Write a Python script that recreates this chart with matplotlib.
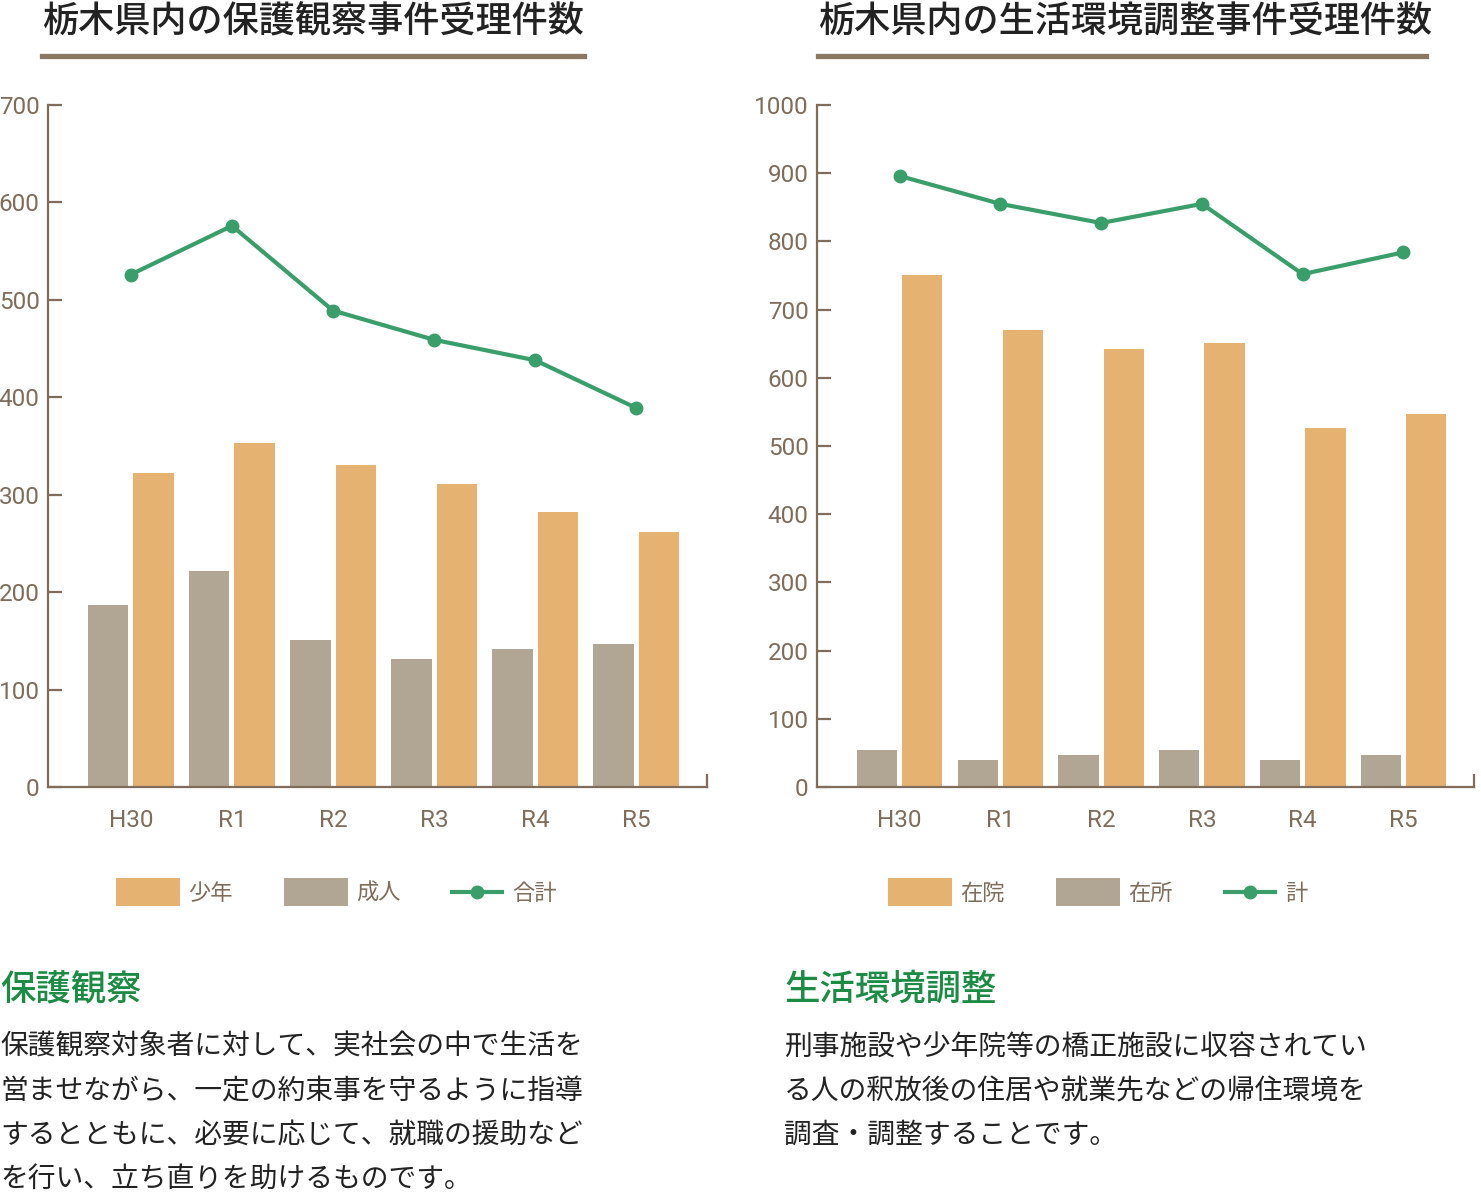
import matplotlib
matplotlib.use("Agg")
import matplotlib.pyplot as plt
from matplotlib.patches import Rectangle
from matplotlib.lines import Line2D

plt.rcParams['font.family'] = ['Noto Sans CJK JP', 'DejaVu Sans']

years = ["H30", "R1", "R2", "R3", "R4", "R5"]

# 保護観察事件
shonen = [322, 353, 331, 311, 282, 262]
seijin = [187, 222, 151, 131, 142, 147]
goukei = [526, 576, 489, 459, 438, 389]

# 生活環境調整事件
zaiin = [751, 670, 642, 651, 526, 547]
zaisho = [54, 40, 47, 54, 40, 47]
kei = [896, 855, 827, 855, 752, 784]

ORANGE = "#E6B272"
GRAY = "#B1A594"
GREEN = "#3A9E6B"
BROWN = "#7F6C5A"
TITLE_LINE = "#8A7764"
HEAD_GREEN = "#1C8B43"

W, H = 1481, 1194
fig = plt.figure(figsize=(W / 100, H / 100), dpi=100)

num_font = ['Roboto', 'DejaVu Sans']


def fx(x):
    return x / W


def fy(y):
    return 1 - y / H


def make_axes(x0, x1, ytop, ybot, ymax, step, back, front, total, right_tick):
    ax = fig.add_axes([fx(x0), fy(ybot), fx(x1 - x0), (ybot - ytop) / H])
    xs = list(range(len(years)))
    w = 0.4
    ax.bar([x - 0.225 for x in xs], back, width=w, color=GRAY, zorder=2)
    ax.bar([x + 0.225 for x in xs], front, width=w, color=ORANGE, zorder=2)
    ax.plot(xs, total, color=GREEN, lw=3, marker="o", ms=9, zorder=3)
    ax.set_ylim(0, ymax)
    ax.set_xlim(-0.82, 5.70)
    ax.set_yticks(range(0, ymax + 1, step))
    ax.set_xticks(xs)
    ax.set_xticklabels(years)
    ax.spines["top"].set_visible(False)
    for s in ["left", "bottom", "right"]:
        ax.spines[s].set_color(BROWN)
        ax.spines[s].set_linewidth(1.6)
    ax.spines["right"].set_bounds(0, right_tick)
    ax.tick_params(axis="y", direction="in", length=10, width=1.6,
                   color=BROWN, labelcolor=BROWN, pad=6)
    ax.tick_params(axis="x", length=0, labelcolor=BROWN, pad=16)
    for lab in ax.get_xticklabels() + ax.get_yticklabels():
        lab.set_family(num_font)
        lab.set_fontsize(17.5)
    return ax


make_axes(48, 707, 105, 787, 700, 100, seijin, shonen, goukei, 12)
make_axes(817, 1474, 105, 787, 1000, 100, zaisho, zaiin, kei, 17)

# titles with underline
for x0, x1, title in [(42, 584, "栃木県内の保護観察事件受理件数"),
                      (818, 1426, "栃木県内の生活環境調整事件受理件数")]:
    fig.text(fx(x0), fy(22), title, fontsize=26, color="#222222",
             va="center", ha="left", weight="medium")
    fig.add_artist(Line2D([fx(x0), fx(x1)], [fy(56), fy(56)],
                          color=TITLE_LINE, lw=3.8))


# legends
def legend_row(x0, items):
    x = x0
    yc = 892
    for kind, color, label, tw in items:
        if kind == "bar":
            fig.add_artist(Rectangle((fx(x), fy(906)), fx(64), 28 / H,
                                     color=color, lw=0))
            x += 72
        else:
            fig.add_artist(Line2D([fx(x), fx(x + 50)], [fy(yc), fy(yc)],
                                  color=color, lw=3))
            fig.add_artist(Line2D([fx(x + 25)], [fy(yc)], color=color,
                                  marker="o", ms=9, lw=0))
            x += 60
        fig.text(fx(x), fy(yc + 1), label, fontsize=16, color=BROWN,
                 va="center", ha="left")
        x += tw


legend_row(116, [("bar", ORANGE, "少年", 96), ("bar", GRAY, "成人", 96),
                 ("line", GREEN, "合計", 0)])
legend_row(888, [("bar", ORANGE, "在院", 96), ("bar", GRAY, "在所", 97),
                 ("line", GREEN, "計", 0)])

# descriptions
fig.text(fx(0), fy(990), "保護観察", fontsize=25.5, color=HEAD_GREEN,
         va="center", ha="left", weight="medium")
fig.text(fx(784), fy(990), "生活環境調整", fontsize=25.5, color=HEAD_GREEN,
         va="center", ha="left", weight="medium")

left_body = ["保護観察対象者に対して、実社会の中で生活を",
             "営ませながら、一定の約束事を守るように指導",
             "するとともに、必要に応じて、就職の援助など",
             "を行い、立ち直りを助けるものです。"]
right_body = ["刑事施設や少年院等の橋正施設に収容されてい",
              "る人の釈放後の住居や就業先などの帰住環境を",
              "調査・調整することです。"]
for i, line in enumerate(left_body):
    fig.text(fx(0), fy(1047 + 44 * i), line, fontsize=20, color="#222222",
             va="center", ha="left")
for i, line in enumerate(right_body):
    fig.text(fx(784), fy(1047 + 44 * i), line, fontsize=20, color="#222222",
             va="center", ha="left")

fig.savefig("out.png", dpi=100)
